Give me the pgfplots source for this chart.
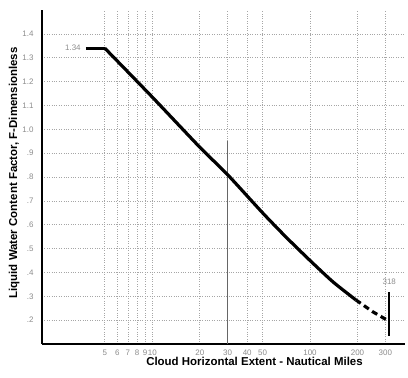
\documentclass[border=0pt]{standalone}
\usepackage{fontspec}
\setmainfont{Liberation Sans}
\usepackage{pgfplots}
\pgfplotsset{compat=1.18}

\begin{document}
\begin{tikzpicture}
\begin{axis}[
  scale only axis,
  width=363bp, height=334bp,
  xmode=log,
  xmin=2, xmax=400,
  ymin=0.1, ymax=1.5,
  axis x line=bottom, axis y line=left,
  axis line style={line width=2.6pt, -},
  xtick={5,6,7,8,9,10,20,30,40,50,100,200,300},
  xticklabels={5,6,7,8,9,10,20,30,40,50,100,200,300},
  ytick={0.2,0.3,0.4,0.5,0.6,0.7,0.8,0.9,1.0,1.1,1.2,1.3,1.4},
  yticklabels={.2,.3,.4,.5,.6,.7,.8,.9,1.0,1.1,1.2,1.3,1.4},
  minor xtick={}, minor ytick={},
  major tick length=0pt,
  tick label style={font=\fontsize{8}{9}\selectfont, text=black!45},
  xticklabel style={yshift=-2bp},
  yticklabel style={xshift=-5bp},
  grid=major,
  major grid style={gray!70, dotted, line width=0.6pt},
  xlabel={\bfseries Cloud Horizontal Extent - Nautical Miles},
  ylabel={\bfseries Liquid Water Content Factor, F-Dimensionless},
  label style={font=\fontsize{11.5}{13}\selectfont},
  xlabel style={yshift=5bp, xshift=31bp},
  ylabel style={yshift=-4bp, xshift=4bp},
  clip=false,
]
% darker reference line at 30 n.mi.
\addplot[gray!80!black, line width=0.8pt] coordinates {(30,0.1) (30,0.95)};

% liquid water content factor, solid part
\addplot[black, line width=3.2pt, line join=round] coordinates {
  (3.8,1.34) (5,1.34)};
\addplot[black, line width=3.2pt, smooth, tension=0.4] coordinates {
  (5,1.34) (10,1.135) (20,0.925) (30,0.81)
  (50,0.65) (70,0.55) (100,0.45) (140,0.36) (195,0.285)
};
% extrapolated part
\addplot[black, line width=3.2pt, dash pattern=on 6pt off 4pt] coordinates {
  (195,0.285) (250,0.235) (318,0.195)
};
% vertical bar at 318 n.mi.
\addplot[black, line width=1.6pt] coordinates {(318,0.135) (318,0.32)};

\node[anchor=east, font=\fontsize{8}{9}\selectfont, text=black!45] at (axis cs:3.7,1.34) {1.34};
\node[font=\fontsize{8}{9}\selectfont, text=black!45] at (axis cs:318,0.36) {318};
\end{axis}
\path ([xshift=-42bp,yshift=-34bp]current axis.south west) rectangle ([xshift=3bp,yshift=10bp]current axis.north east);
\end{tikzpicture}
\end{document}
